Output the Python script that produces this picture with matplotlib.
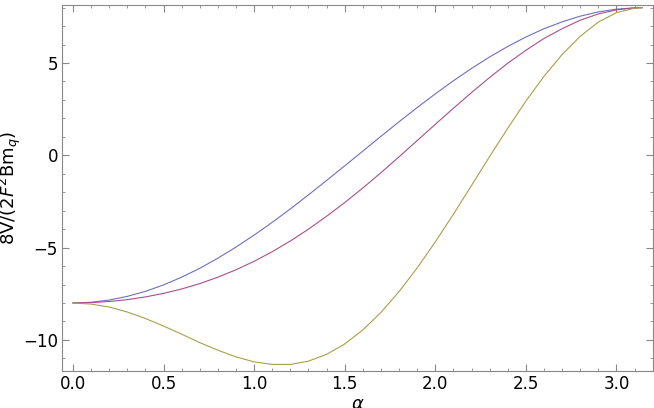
import matplotlib
matplotlib.use("Agg")
import matplotlib.pyplot as plt
import numpy as np

alpha = [0,0.1,0.2,0.3,0.4,0.5,0.6,0.7,0.8,0.9,1.0,1.1,1.2,1.3,1.4,1.5,1.6,1.7,1.8,1.9,2.0,2.1,2.2,2.3,2.4,2.5,2.6,2.7,2.8,2.9,3.0,3.1,3.1416]
blue = [-8,-7.96,-7.84,-7.64,-7.37,-7.02,-6.60,-6.12,-5.57,-4.97,-4.32,-3.63,-2.90,-2.14,-1.36,-0.57,0.23,1.03,1.82,2.59,3.33,4.04,4.71,5.33,5.90,6.41,6.86,7.23,7.54,7.77,7.92,7.99,8]
purple = [-8,-7.98,-7.92,-7.82,-7.67,-7.48,-7.24,-6.95,-6.60,-6.20,-5.74,-5.22,-4.64,-4.00,-3.30,-2.56,-1.77,-0.94,-0.08,0.80,1.68,2.55,3.40,4.22,4.99,5.69,6.33,6.86,7.32,7.66,7.88,7.99,8]
olive = [-8,-8.06,-8.22,-8.49,-8.84,-9.25,-9.69,-10.15,-10.56,-10.92,-11.19,-11.33,-11.33,-11.15,-10.78,-10.22,-9.46,-8.51,-7.38,-6.10,-4.69,-3.19,-1.63,-0.06,1.47,2.94,4.28,5.46,6.45,7.22,7.73,7.97,8]

fig = plt.figure(figsize=(6.54,4.08), dpi=100)
ax = fig.add_axes([0.095, 0.09, 0.903, 0.898])
ax.plot(alpha, blue, color='#6f6fc0', lw=0.8)
ax.plot(alpha, purple, color='#a9508a', lw=0.8)
ax.plot(alpha, olive, color='#a8a048', lw=0.8)
ax.set_xlim(-0.06, 3.2)
ax.set_ylim(-11.7, 8.15)
ax.set_xticks([0,0.5,1.0,1.5,2.0,2.5,3.0])
ax.set_xticklabels(['0.0','0.5','1.0','1.5','2.0','2.5','3.0'])
ax.set_yticks([-10,-5,0,5])
ax.set_xticks(np.arange(0,3.2,0.1), minor=True)
ax.set_yticks(np.arange(-11,8.1,1), minor=True)
ax.tick_params(which='both', direction='in', top=True, right=True, labelsize=12, color='#888888', pad=3)
ax.tick_params(which='major', length=5)
ax.tick_params(which='minor', length=2.5)
for s in ax.spines.values():
    s.set_color('#888888')
ax.set_xlabel(r'$\alpha$', fontsize=13, labelpad=1)
ax.set_ylabel(r'8V/(2$F^2$Bm$_q$)', fontsize=13, labelpad=0)
fig.savefig('out.png', dpi=100)
